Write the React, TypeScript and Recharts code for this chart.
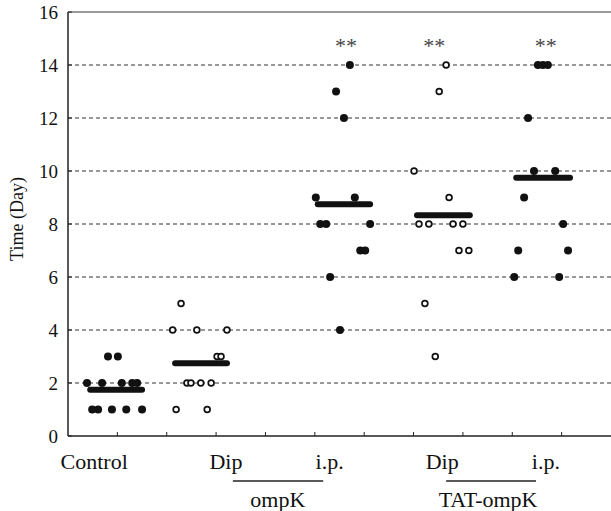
import { Label, ReferenceLine, Scatter, ScatterChart, XAxis, YAxis } from "recharts";

const FONT = '"Liberation Serif", "Times New Roman", serif';
const INK = "#111";

const Y_TICKS = [0, 2, 4, 6, 8, 10, 12, 14, 16];
const GRID_DAYS = [2, 4, 6, 8, 10, 12, 14];
const X_TICKS = [0, 1, 2, 3, 4, 5, 6, 7, 8, 9, 10, 11];

// days to death per animal, and its horizontal jitter slot
const controlDays = [3, 3, 2, 2, 2, 2, 2, 1, 1, 1, 1, 1];
const controlPos = [0.81, 1.01, 0.385, 0.69, 1.09, 1.3, 1.4, 0.49, 0.61, 0.89, 1.18, 1.5];

const ompkDipDays = [5, 4, 4, 4, 3, 3, 2, 2, 2, 2, 1, 1];
const ompkDipPos = [2.29, 2.12, 2.61, 3.22, 3.02, 3.1, 2.41, 2.49, 2.69, 2.9, 2.19, 2.82];

const ompkIpDays = [14, 13, 12, 9, 9, 8, 8, 8, 7, 7, 6, 4];
const ompkIpPos = [5.71, 5.43, 5.59, 5.02, 5.81, 5.11, 5.23, 6.12, 5.92, 6.02, 5.31, 5.51];

const tatDipDays = [14, 13, 10, 9, 8, 8, 8, 8, 7, 7, 5, 3];
const tatDipPos = [7.66, 7.52, 7.01, 7.72, 7.11, 7.31, 7.8, 8.0, 7.92, 8.12, 7.23, 7.44];

const tatIpDays = [14, 14, 14, 12, 10, 10, 9, 8, 7, 7, 6, 6];
const tatIpPos = [9.52, 9.62, 9.72, 9.32, 9.44, 9.87, 9.24, 10.03, 9.12, 10.13, 9.04, 9.95];

// group means (thick bars)
const meanDays = [1.75, 2.75, 8.75, 8.33, 9.75];
const meanFrom = [0.45, 2.17, 5.06, 7.07, 9.08];
const meanTo = [1.5, 3.22, 6.12, 8.14, 10.17];

// ** markers
const sigPos = [5.63, 7.42, 9.68];

// category labels under the axis
const catPos = [0.53, 3.2, 5.3, 7.58, 9.68];
const catNames = ["Control", "Dip", "i.p.", "Dip", "i.p."];
const groupPos = [4.25, 8.51];
const groupNames = ["ompK", "TAT-ompK"];
const groupFrom = [3.34, 7.66];
const groupTo = [5.17, 9.48];

const zip = (pos: number[], days: number[]) =>
  pos.map((x, i) => ({ x, y: days[i] }));

const FilledDot = ({ cx, cy }: { cx?: number; cy?: number }) => (
  <circle cx={cx} cy={cy} r={4} fill={INK} />
);

const OpenDot = ({ cx, cy }: { cx?: number; cy?: number }) => (
  <circle cx={cx} cy={cy} r={2.9} fill="#fff" stroke={INK} strokeWidth={1.7} />
);

const Stars = ({ cx, cy }: { cx?: number; cy?: number }) => (
  <text
    x={cx}
    y={(cy ?? 0) + 14}
    textAnchor="middle"
    fontFamily={FONT}
    fontSize={22}
    fill="#444"
  >
    **
  </text>
);

// integer ticks get an inward tick mark, the other ticks carry the labels
function XTick({ x, y, payload }: { x?: number; y?: number; payload?: { value: number } }) {
  const v = payload?.value as number;
  const px = x ?? 0;
  const py = y ?? 0;
  const ci = catPos.indexOf(v);
  if (ci >= 0) {
    return (
      <text x={px} y={py + 33} textAnchor="middle" fontFamily={FONT} fontSize={22} fill={INK}>
        {catNames[ci]}
      </text>
    );
  }
  const gi = groupPos.indexOf(v);
  if (gi >= 0) {
    return (
      <text x={px} y={py + 71} textAnchor="middle" fontFamily={FONT} fontSize={22} fill={INK}>
        {groupNames[gi]}
      </text>
    );
  }
  if (v > 0 && v < 11) {
    return <line x1={px} x2={px} y1={py} y2={py - 4} stroke="#222" strokeWidth={1} />;
  }
  return null;
}

function YTitle(props: { viewBox?: { x: number; y: number; width: number; height: number } }) {
  const vb = props.viewBox ?? { x: 0, y: 0, width: 0, height: 0 };
  const cy = vb.y + vb.height / 2 - 5;
  return (
    <text
      x={17}
      y={cy}
      transform={`rotate(-90, 17, ${cy})`}
      textAnchor="middle"
      dominantBaseline="central"
      fontFamily={FONT}
      fontSize={18}
      fill={INK}
    >
      Time (Day)
    </text>
  );
}

export default function App() {
  return (
    <div style={{ position: "absolute", left: 0, top: 0, background: "#fff" }}>
      <ScatterChart width={611} height={511} margin={{ top: 12, right: 0, bottom: 0, left: 0 }}>
        <XAxis
          type="number"
          dataKey="x"
          domain={[0, 11]}
          ticks={[...X_TICKS, ...catPos, ...groupPos]}
          interval={0}
          tick={<XTick />}
          tickSize={0}
          tickMargin={0}
          tickLine={false}
          height={75}
          axisLine={{ stroke: "#222", strokeWidth: 1.5 }}
        />
        <YAxis
          type="number"
          dataKey="y"
          domain={[0, 16]}
          ticks={Y_TICKS}
          interval={0}
          width={68}
          tickSize={-4}
          tickMargin={14}
          axisLine={{ stroke: "#222", strokeWidth: 1.5 }}
          tickLine={{ stroke: "#222" }}
          tick={{ fontFamily: FONT, fontSize: 19, fill: INK }}
        >
          <Label content={<YTitle />} />
        </YAxis>

        {GRID_DAYS.map((d) => (
          <ReferenceLine key={`g${d}`} y={d} stroke="#333" strokeDasharray="4 3" />
        ))}
        <ReferenceLine y={16} stroke="#9a9a9a" strokeWidth={2} />

        <Scatter data={zip(controlPos, controlDays)} shape={<FilledDot />} isAnimationActive={false} />
        <Scatter data={zip(ompkDipPos, ompkDipDays)} shape={<OpenDot />} isAnimationActive={false} />
        <Scatter data={zip(ompkIpPos, ompkIpDays)} shape={<FilledDot />} isAnimationActive={false} />
        <Scatter data={zip(tatDipPos, tatDipDays)} shape={<OpenDot />} isAnimationActive={false} />
        <Scatter data={zip(tatIpPos, tatIpDays)} shape={<FilledDot />} isAnimationActive={false} />
        <Scatter
          data={sigPos.map((x) => ({ x, y: 15 }))}
          shape={<Stars />}
          isAnimationActive={false}
        />

        {meanDays.map((m, i) => (
          <ReferenceLine
            key={`m${i}`}
            segment={[
              { x: meanFrom[i], y: m },
              { x: meanTo[i], y: m },
            ]}
            stroke={INK}
            strokeWidth={6}
            strokeLinecap="round"
          />
        ))}

        {groupNames.map((g, i) => (
          <ReferenceLine
            key={g}
            segment={[
              { x: groupFrom[i], y: -1.7 },
              { x: groupTo[i], y: -1.7 },
            ]}
            ifOverflow="visible"
            stroke="#222"
            strokeWidth={1.5}
          />
        ))}
      </ScatterChart>
    </div>
  );
}
